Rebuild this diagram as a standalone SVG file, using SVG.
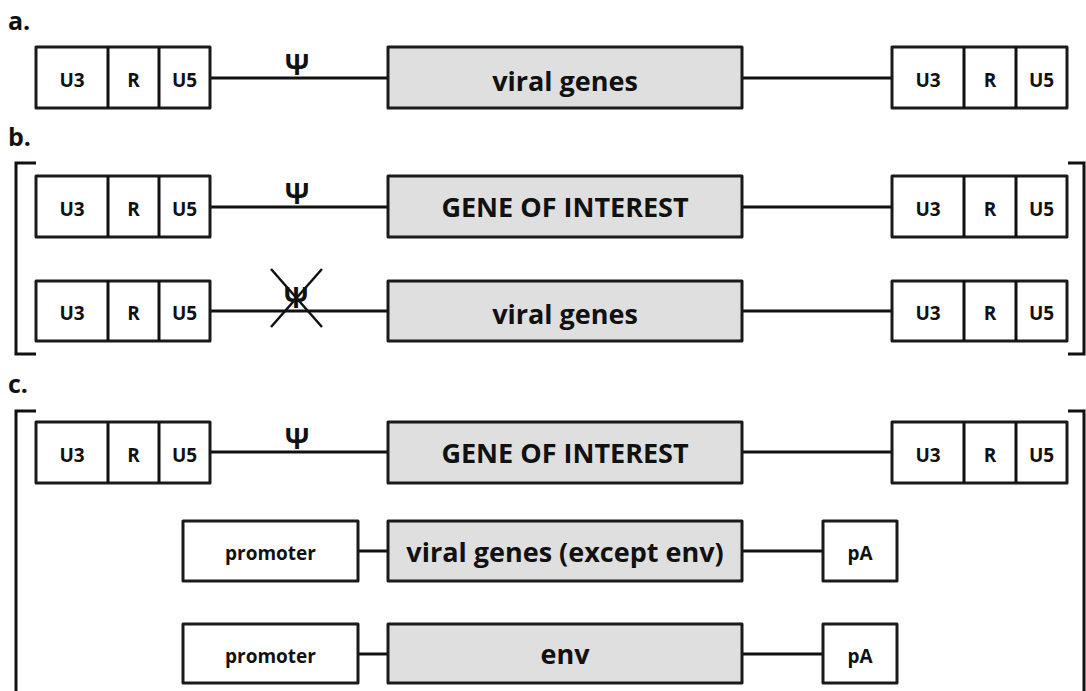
<svg xmlns="http://www.w3.org/2000/svg" width="1086" height="691" viewBox="0 0 1086 691">
<style>
.box{fill:#fff;stroke:#1a1a1a;stroke-width:3;stroke-linejoin:round}
.gbox{fill:#dfdfdf;stroke:#1a1a1a;stroke-width:3;stroke-linejoin:round}
.ln{stroke:#111;stroke-width:3;fill:none}
.br{stroke:#111;stroke-width:3;fill:none}
.t{font-family:"Open Sans","Liberation Sans",sans-serif;font-weight:bold;fill:#111;text-anchor:middle}
.s{font-size:19px}
.g{font-size:27px}
.lab{font-family:"Open Sans","Liberation Sans",sans-serif;font-weight:bold;fill:#111;font-size:25px}
.psi{font-family:"Open Sans","DejaVu Sans",sans-serif;font-weight:bold;fill:#111;font-size:28px;text-anchor:middle}
</style>
<rect width="1086" height="691" fill="#fff"/>
<text class="lab" x="8" y="30">a.</text>
<text class="lab" x="8" y="146">b.</text>
<text class="lab" x="8" y="393">c.</text>
<g id="brackets">
<path class="br" d="M36,163 H16 V354 H36"/>
<path class="br" d="M1068,163 H1084 V354 H1068"/>
<path class="br" d="M36,411 H16 V691"/>
<path class="br" d="M1068,411 H1084 V691"/>
</g>
<g id="connectors">
<line class="ln" x1="210" y1="78" x2="388" y2="78"/>
<line class="ln" x1="742" y1="78" x2="892" y2="78"/>
<line class="ln" x1="210" y1="207" x2="388" y2="207"/>
<line class="ln" x1="742" y1="207" x2="892" y2="207"/>
<line class="ln" x1="210" y1="311" x2="388" y2="311"/>
<line class="ln" x1="742" y1="311" x2="892" y2="311"/>
<line class="ln" x1="210" y1="452" x2="388" y2="452"/>
<line class="ln" x1="742" y1="452" x2="892" y2="452"/>
<line class="ln" x1="358" y1="551" x2="388" y2="551"/>
<line class="ln" x1="742" y1="551" x2="823" y2="551"/>
<line class="ln" x1="358" y1="654" x2="388" y2="654"/>
<line class="ln" x1="742" y1="654" x2="823" y2="654"/>
</g>
<g id="psi-a"><text class="psi" x="297" y="75">Ψ</text></g>
<g id="psi-b1"><text class="psi" x="297" y="204">Ψ</text></g>
<g id="psi-b2"><text class="psi" x="296" y="308">Ψ</text>
<line x1="271" y1="269" x2="322" y2="327" stroke="#111" stroke-width="2.5"/>
<line x1="322" y1="269" x2="271" y2="327" stroke="#111" stroke-width="2.5"/></g>
<g id="psi-c1"><text class="psi" x="297" y="449">Ψ</text></g>

<!-- row a -->
<g id="a-ltr5">
<rect class="box" x="36" y="47" width="174" height="61"/>
<line class="ln" x1="108" y1="47" x2="108" y2="108"/><line class="ln" x1="159" y1="47" x2="159" y2="108"/>
<text class="t s" x="72" y="87">U3</text><text class="t s" x="133.5" y="87">R</text><text class="t s" x="184.5" y="87">U5</text>
</g>
<g id="a-genes"><rect class="gbox" x="388" y="47" width="354" height="61"/><text class="t g" x="565" y="91">viral genes</text></g>
<g id="a-ltr3">
<rect class="box" x="892" y="47" width="175" height="61"/>
<line class="ln" x1="964" y1="47" x2="964" y2="108"/><line class="ln" x1="1016" y1="47" x2="1016" y2="108"/>
<text class="t s" x="928" y="87">U3</text><text class="t s" x="990" y="87">R</text><text class="t s" x="1041.5" y="87">U5</text>
</g>

<!-- row b1 -->
<g id="b1-ltr5">
<rect class="box" x="36" y="176" width="174" height="61"/>
<line class="ln" x1="108" y1="176" x2="108" y2="237"/><line class="ln" x1="159" y1="176" x2="159" y2="237"/>
<text class="t s" x="72" y="216">U3</text><text class="t s" x="133.5" y="216">R</text><text class="t s" x="184.5" y="216">U5</text>
</g>
<g id="b1-goi"><rect class="gbox" x="388" y="176" width="354" height="61"/><text class="t g" x="565" y="217">GENE OF INTEREST</text></g>
<g id="b1-ltr3">
<rect class="box" x="892" y="176" width="175" height="61"/>
<line class="ln" x1="964" y1="176" x2="964" y2="237"/><line class="ln" x1="1016" y1="176" x2="1016" y2="237"/>
<text class="t s" x="928" y="216">U3</text><text class="t s" x="990" y="216">R</text><text class="t s" x="1041.5" y="216">U5</text>
</g>

<!-- row b2 -->
<g id="b2-ltr5">
<rect class="box" x="36" y="281" width="174" height="60"/>
<line class="ln" x1="108" y1="281" x2="108" y2="341"/><line class="ln" x1="159" y1="281" x2="159" y2="341"/>
<text class="t s" x="72" y="320">U3</text><text class="t s" x="133.5" y="320">R</text><text class="t s" x="184.5" y="320">U5</text>
</g>
<g id="b2-genes"><rect class="gbox" x="388" y="281" width="354" height="60"/><text class="t g" x="565" y="324">viral genes</text></g>
<g id="b2-ltr3">
<rect class="box" x="892" y="281" width="175" height="60"/>
<line class="ln" x1="964" y1="281" x2="964" y2="341"/><line class="ln" x1="1016" y1="281" x2="1016" y2="341"/>
<text class="t s" x="928" y="320">U3</text><text class="t s" x="990" y="320">R</text><text class="t s" x="1041.5" y="320">U5</text>
</g>

<!-- row c1 -->
<g id="c1-ltr5">
<rect class="box" x="36" y="422" width="174" height="61"/>
<line class="ln" x1="108" y1="422" x2="108" y2="483"/><line class="ln" x1="159" y1="422" x2="159" y2="483"/>
<text class="t s" x="72" y="462">U3</text><text class="t s" x="133.5" y="462">R</text><text class="t s" x="184.5" y="462">U5</text>
</g>
<g id="c1-goi"><rect class="gbox" x="388" y="422" width="354" height="61"/><text class="t g" x="565" y="463">GENE OF INTEREST</text></g>
<g id="c1-ltr3">
<rect class="box" x="892" y="422" width="175" height="61"/>
<line class="ln" x1="964" y1="422" x2="964" y2="483"/><line class="ln" x1="1016" y1="422" x2="1016" y2="483"/>
<text class="t s" x="928" y="462">U3</text><text class="t s" x="990" y="462">R</text><text class="t s" x="1041.5" y="462">U5</text>
</g>

<!-- row c2 -->
<g id="c2-promoter"><rect class="box" x="183" y="521" width="175" height="60"/><text class="t s" x="270.5" y="560">promoter</text></g>
<g id="c2-genes"><rect class="gbox" x="388" y="521" width="354" height="60"/><text class="t g" x="565" y="562">viral genes (except env)</text></g>
<g id="c2-pa"><rect class="box" x="823" y="521" width="74" height="60"/><text class="t s" x="860" y="560">pA</text></g>

<!-- row c3 -->
<g id="c3-promoter"><rect class="box" x="183" y="624" width="175" height="59"/><text class="t s" x="270.5" y="663">promoter</text></g>
<g id="c3-env"><rect class="gbox" x="388" y="624" width="354" height="59"/><text class="t g" x="565" y="664">env</text></g>
<g id="c3-pa"><rect class="box" x="823" y="624" width="74" height="59"/><text class="t s" x="860" y="663">pA</text></g>
</svg>
